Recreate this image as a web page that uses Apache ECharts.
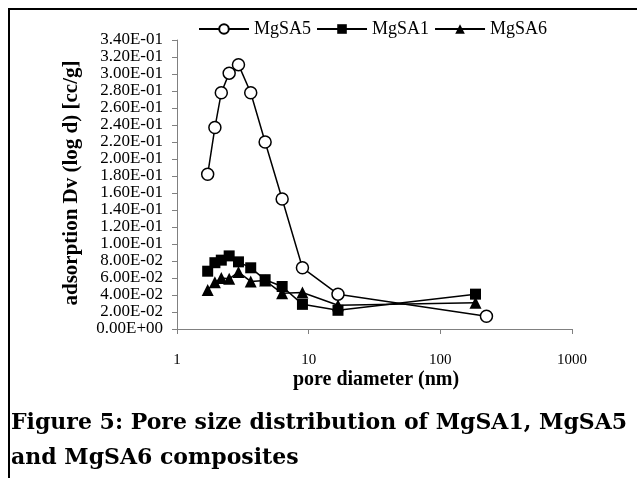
<!DOCTYPE html>
<html>
<head>
<meta charset="utf-8">
<script src="https://cdn.jsdelivr.net/npm/echarts@6/dist/echarts.min.js"></script>
<style>
html,body{margin:0;padding:0;background:#fff;}
#c{width:637px;height:478px;}
</style>
</head>
<body>
<div id="c"></div>
<script>
var poreDiameter5 = [1.71, 1.94, 2.17, 2.49, 2.93, 3.63, 4.67, 6.29, 8.97, 16.7, 224];
var mgsa5 = [0.182, 0.237, 0.278, 0.301, 0.311, 0.278, 0.220, 0.153, 0.072, 0.041, 0.015];
var poreDiameter1 = [1.71, 1.94, 2.17, 2.49, 2.93, 3.63, 4.67, 6.29, 8.97, 16.7, 185];
var mgsa1 = [0.068, 0.078, 0.081, 0.086, 0.079, 0.072, 0.058, 0.050, 0.029, 0.022, 0.041];
var poreDiameter6 = [1.71, 1.94, 2.17, 2.49, 2.93, 3.63, 4.67, 6.29, 8.97, 16.7, 185];
var mgsa6 = [0.046, 0.055, 0.060, 0.059, 0.067, 0.056, 0.057, 0.042, 0.043, 0.028, 0.031];
var seriesNames = ['MgSA5', 'MgSA1', 'MgSA6'];
var xTitle = 'pore diameter (nm)';
var yTitle = 'adsorption Dv (log d) [cc/g]';
var captionLines = ['Figure 5: Pore size distribution of MgSA1, MgSA5', 'and MgSA6 composites'];

function pairs(xs, ys){ return xs.map(function(x,i){ return [x, ys[i]]; }); }
function fmt(v){
  if (Math.abs(v) < 1e-12) return '0.00E+00';
  var p = v.toExponential(2).split('e');
  var e = parseInt(p[1], 10);
  return p[0] + 'E' + (e < 0 ? '-' : '+') + String(Math.abs(e)).padStart(2, '0');
}
var serif = '"Liberation Serif", "DejaVu Serif", serif';
var wideSerif = '"DejaVu Serif", "Liberation Serif", serif';
var chart = echarts.init(document.getElementById('c'), null, {renderer:'canvas'});
function mk(name, xs, ys, symbol, size, fill){
  return {
    name: name, type: 'line', data: pairs(xs, ys),
    symbol: symbol, symbolSize: size, showAllSymbol: true,
    lineStyle: {color:'#000', width:1.5},
    itemStyle: {color: fill, borderColor:'#000', borderWidth: symbol==='circle'?1.5:0},
    emphasis: {disabled:true}, animation:false, z: symbol==='circle'?3:2
  };
}
chart.setOption({
  animation: false,
  backgroundColor: '#fff',
  legend: {
    top: 15, left: 193, itemWidth: 50, itemHeight: 12, itemGap: 5,
    textStyle: {fontFamily: serif, fontSize: 18, color:'#000'},
    data: seriesNames
  },
  grid: {left:177, right:65, top:40, bottom:149, containLabel:false},
  xAxis: {
    type:'log', logBase:10, min:1, max:1000,
    axisLine:{lineStyle:{color:'#808080', width:1}},
    axisTick:{show:true, length:5, inside:false, lineStyle:{color:'#808080'}},
    minorTick:{show:false}, splitLine:{show:false},
    axisLabel:{fontFamily:serif, fontSize:15, color:'#000', margin:24, formatter:function(v){ return String(Math.round(v)); }}
  },
  yAxis: {
    type:'value', min:0, max:0.34, interval:0.02,
    axisLine:{show:true, lineStyle:{color:'#808080', width:1}},
    axisTick:{show:true, length:5, lineStyle:{color:'#808080'}},
    splitLine:{show:false},
    axisLabel:{fontFamily:serif, fontSize:17, color:'#000', margin:14, formatter: fmt}
  },
  series: [
    mk(seriesNames[0], poreDiameter5, mgsa5, 'circle', 12, '#fff'),
    mk(seriesNames[1], poreDiameter1, mgsa1, 'rect', 11, '#000'),
    mk(seriesNames[2], poreDiameter6, mgsa6, 'triangle', 12, '#000')
  ],
  graphic: [
    {type:'rect', shape:{x:8, y:8, width:629, height:2}, style:{fill:'#000'}},
    {type:'rect', shape:{x:8, y:8, width:2, height:470}, style:{fill:'#000'}},
    {type:'text', x:376, y:380, style:{text:xTitle, fontFamily:serif, fontWeight:'bold', fontSize:20, fill:'#000', align:'center', verticalAlign:'middle'}},
    {type:'text', x:72, y:183, rotation:Math.PI/2, style:{text:yTitle, fontFamily:serif, fontWeight:'bold', fontSize:21, fill:'#000', align:'center', verticalAlign:'middle'}},
    {type:'text', x:11, y:423, style:{text:captionLines[0], fontFamily:wideSerif, fontWeight:'bold', fontSize:22, fill:'#000', align:'left', verticalAlign:'middle'}},
    {type:'text', x:11, y:458, style:{text:captionLines[1], fontFamily:wideSerif, fontWeight:'bold', fontSize:22, fill:'#000', align:'left', verticalAlign:'middle'}}
  ]
});
</script>
</body>
</html>
